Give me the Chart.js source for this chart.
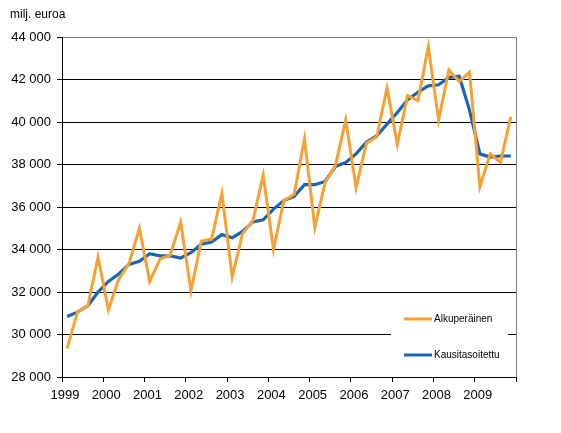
<!DOCTYPE html>
<html><head><meta charset="utf-8">
<script src="https://cdn.jsdelivr.net/npm/chart.js@4.4.1/dist/chart.umd.min.js"></script>
<style>html,body{margin:0;padding:0;background:#fff}</style>
</head><body>
<canvas id="c" width="561" height="433"></canvas>
<script>
const yearLabels = ['1999','2000','2001','2002','2003','2004','2005','2006','2007','2008','2009'];
const seriesNames = ['Alkuperäinen', 'Kausitasoitettu'];
const unitLabel = 'milj. euroa';
const original = [29350, 31050, 31350, 33650, 31150, 32600, 33350, 35000, 32500, 33550, 33750, 35300,
  32050, 34400, 34500, 36650, 32700, 34750, 35350, 37500, 34000, 36300, 36600, 39200,
  35050, 37150, 37950, 40100, 36900, 39000, 39300, 41600, 38950, 41250, 41000, 43550,
  40100, 42450, 41900, 42350, 36950, 38500, 38100, 40250];
const adjusted = [30850, 31050, 31350, 32000, 32500, 32850, 33300, 33450, 33800, 33700, 33700, 33600,
  33850, 34250, 34350, 34700, 34550, 34850, 35300, 35400, 35900, 36300, 36500, 37050,
  37050, 37200, 37900, 38100, 38500, 39050, 39350, 39900, 40450, 41050, 41400, 41700,
  41750, 42100, 42150, 40550, 38500, 38350, 38400, 38400];
const yMin = 28000, yMax = 44000, yStep = 2000;
const quartersPerYear = 4;

const FONT = '"Liberation Sans", Arial, sans-serif';
const ORANGE = '#F7A033', BLUE = '#1A66B0';

function fmt(v){ return String(v).replace(/\B(?=(\d{3})+(?!\d))/g, ' '); }
function toPoints(arr){ return arr.map((v,i)=>({x:i+0.5, y:v})); }

const decor = {
  id:'decor',
  afterDraw(chart){
    const ctx = chart.ctx, ca = chart.chartArea;
    ctx.save();
    ctx.strokeStyle = '#808080'; ctx.lineWidth = 1;
    ctx.beginPath(); ctx.moveTo(Math.round(ca.right)+0.5, ca.top); ctx.lineTo(Math.round(ca.right)+0.5, ca.bottom); ctx.stroke();
    ctx.fillStyle = '#000'; ctx.font = '12px ' + FONT; ctx.textBaseline = 'alphabetic'; ctx.textAlign = 'left';
    ctx.fillText(unitLabel, 10, 18);
    const bx = ca.right - 125, by = ca.bottom - 77;
    ctx.fillStyle = '#fff'; ctx.fillRect(bx, by, 117, 70);
    const rows = [ca.bottom - 58, ca.bottom - 22];
    chart.data.datasets.forEach((ds, k) => {
      const y = rows[k];
      ctx.strokeStyle = ds.borderColor; ctx.lineWidth = 3;
      ctx.beginPath(); ctx.moveTo(ca.right - 112, y); ctx.lineTo(ca.right - 84, y); ctx.stroke();
      ctx.fillStyle = '#000'; ctx.font = '10px ' + FONT; ctx.textBaseline = 'middle';
      ctx.fillText(ds.label, ca.right - 82, y + 0.5);
    });
    ctx.restore();
  }
};

new Chart(document.getElementById('c'), {
  type:'line',
  data:{
    datasets:[
      {label:seriesNames[0], data:toPoints(original), borderColor:ORANGE, backgroundColor:ORANGE, borderWidth:3, pointRadius:0, tension:0, fill:false},
      {label:seriesNames[1], data:toPoints(adjusted), borderColor:BLUE, backgroundColor:BLUE, borderWidth:3.2, pointRadius:0, tension:0, fill:false}
    ]
  },
  options:{
    responsive:false, animation:false, devicePixelRatio:1,
    layout:{padding:{top:37, right:45, left:0, bottom:0}},
    plugins:{legend:{display:false}, tooltip:{enabled:false}, title:{display:false}},
    scales:{
      x:{
        type:'linear', min:0, max:yearLabels.length*quartersPerYear,
        afterFit(s){ s.height = 56; },
        grid:{drawOnChartArea:false, drawTicks:true, tickLength:5, color:'#000', tickColor:'#000'},
        border:{color:'#000', width:1},
        ticks:{stepSize:quartersPerYear, autoSkip:false, maxRotation:0, padding:6, labelOffset:3, color:'#000', font:{family:FONT, size:13},
          callback:(v)=> (yearLabels[v/quartersPerYear] !== undefined ? yearLabels[v/quartersPerYear] : '')}
      },
      y:{
        min:yMin, max:yMax,
        afterFit(s){ s.width = 62; },
        grid:{color:(c)=> (c.tick && c.tick.value === yMax ? '#808080' : '#000'), tickColor:'#000', tickLength:5, lineWidth:1},
        border:{color:'#000', width:1},
        ticks:{stepSize:yStep, padding:6, color:'#000', font:{family:FONT, size:13}, callback:(v)=>fmt(v)}
      }
    }
  },
  plugins:[decor]
});
</script>
</body></html>
